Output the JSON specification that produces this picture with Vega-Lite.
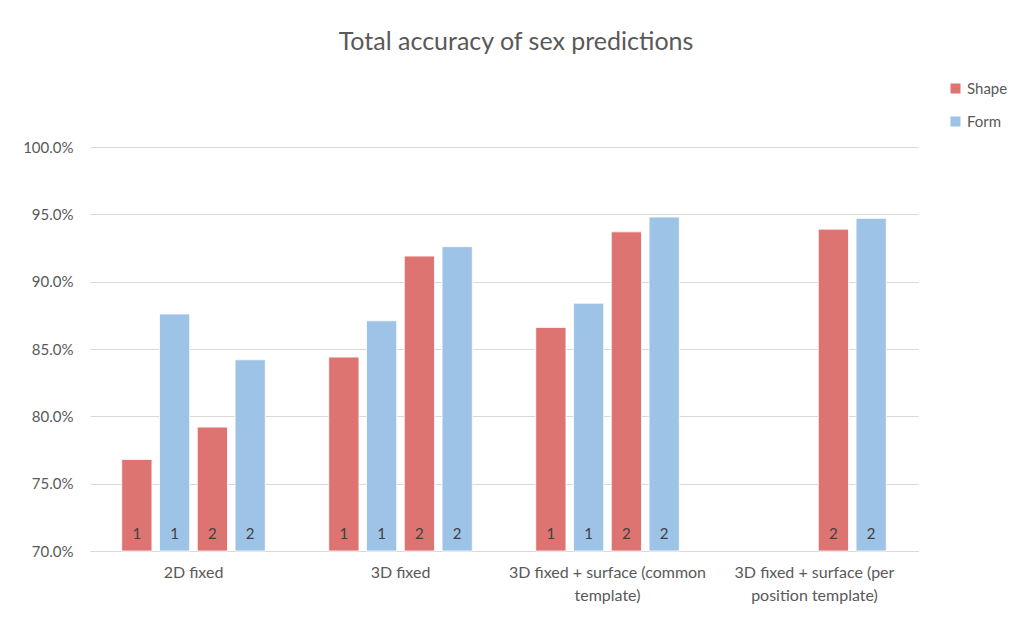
{
  "$schema": "https://vega.github.io/schema/vega-lite/v6.json",
  "autosize": {"type": "none"},
  "width": 828,
  "height": 404,
  "padding": {"left": 90, "top": 147, "right": 96, "bottom": 74},
  "background": "white",
  "config": {
    "font": "Lato",
    "view": {"stroke": null},
    "axis": {"labelFont": "Lato", "labelColor": "#595959", "labelFontSize": 15}
  },
  "title": {
    "text": "Total accuracy of sex predictions",
    "fontSize": 25,
    "fontWeight": "normal",
    "color": "#595959",
    "font": "Lato",
    "offset": 26,
    "dx": 12
  },
  "data": {
    "values": [
      {"category": "2D fixed", "series": "Shape", "slot": "Shape 1", "label": "1", "value": 0.768},
      {"category": "2D fixed", "series": "Form", "slot": "Form 1", "label": "1", "value": 0.876},
      {"category": "2D fixed", "series": "Shape", "slot": "Shape 2", "label": "2", "value": 0.792},
      {"category": "2D fixed", "series": "Form", "slot": "Form 2", "label": "2", "value": 0.842},
      {"category": "3D fixed", "series": "Shape", "slot": "Shape 1", "label": "1", "value": 0.844},
      {"category": "3D fixed", "series": "Form", "slot": "Form 1", "label": "1", "value": 0.871},
      {"category": "3D fixed", "series": "Shape", "slot": "Shape 2", "label": "2", "value": 0.919},
      {"category": "3D fixed", "series": "Form", "slot": "Form 2", "label": "2", "value": 0.926},
      {"category": "3D fixed + surface (common template)", "series": "Shape", "slot": "Shape 1", "label": "1", "value": 0.866},
      {"category": "3D fixed + surface (common template)", "series": "Form", "slot": "Form 1", "label": "1", "value": 0.884},
      {"category": "3D fixed + surface (common template)", "series": "Shape", "slot": "Shape 2", "label": "2", "value": 0.937},
      {"category": "3D fixed + surface (common template)", "series": "Form", "slot": "Form 2", "label": "2", "value": 0.948},
      {"category": "3D fixed + surface (per position template)", "series": "Shape", "slot": "Shape 2", "label": "2", "value": 0.939},
      {"category": "3D fixed + surface (per position template)", "series": "Form", "slot": "Form 2", "label": "2", "value": 0.947}
    ]
  },
  "encoding": {
    "x": {
      "field": "category",
      "type": "nominal",
      "sort": null,
      "scale": {"paddingInner": 0.27, "paddingOuter": 0.135},
      "axis": {
        "title": null,
        "labelAngle": 0,
        "ticks": false,
        "domainColor": "#d9d9d9",
        "domainWidth": 1,
        "labelPadding": 13,
        "labelFontSize": 16,
        "labelLimit": 300,
        "labelLineHeight": 23,
        "labelExpr": "datum.value == '3D fixed + surface (common template)' ? ['3D fixed + surface (common', 'template)'] : datum.value == '3D fixed + surface (per position template)' ? ['3D fixed + surface (per', 'position template)'] : datum.value"
      }
    },
    "xOffset": {
      "field": "slot",
      "type": "nominal",
      "scale": {"domain": ["Shape 1", "Form 1", "Shape 2", "Form 2"], "paddingInner": 0.2, "paddingOuter": 0.1}
    }
  },
  "layer": [
    {
      "mark": {"type": "bar", "stroke": "white", "strokeWidth": 0.8},
      "encoding": {
        "y": {
          "field": "value",
          "type": "quantitative",
          "scale": {"domain": [0.7, 1.0], "zero": false, "nice": false},
          "axis": {
            "title": null,
            "format": ".1%",
            "values": [0.7, 0.75, 0.8, 0.85, 0.9, 0.95, 1.0],
            "domain": false,
            "ticks": false,
            "labelPadding": 17,
            "gridColor": "#d9d9d9",
            "gridWidth": 1
          }
        },
        "y2": {"datum": 0.7},
        "color": {
          "field": "series",
          "type": "nominal",
          "scale": {"domain": ["Shape", "Form"], "range": ["#dd7471", "#9dc3e6"]},
          "legend": {
            "title": null,
            "orient": "none",
            "legendX": 858,
            "legendY": -66,
            "symbolType": "square",
            "symbolSize": 100,
            "symbolStrokeWidth": 0,
            "labelFontSize": 15,
            "labelColor": "#595959",
            "labelFont": "Lato",
            "rowPadding": 17,
            "labelOffset": 4
          }
        }
      }
    },
    {
      "mark": {"type": "text", "dy": -17, "fontSize": 15, "color": "#404040", "font": "Lato"},
      "encoding": {
        "y": {"datum": 0.7},
        "text": {"field": "label"}
      }
    }
  ]
}
